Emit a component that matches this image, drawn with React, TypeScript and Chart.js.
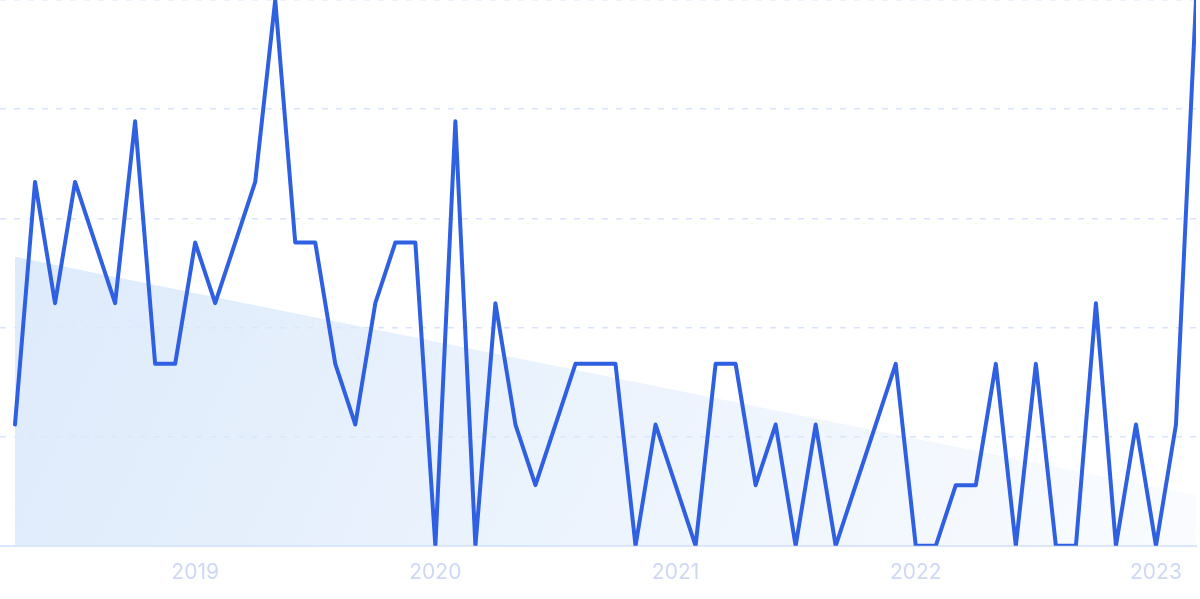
import React, { useEffect, useRef } from "react";
import { Chart, registerables } from "chart.js";

Chart.register(...registerables);

const months: string[] = [
  "2018-04","2018-05","2018-06","2018-07","2018-08","2018-09","2018-10","2018-11","2018-12",
  "2019-01","2019-02","2019-03","2019-04","2019-05","2019-06","2019-07","2019-08","2019-09","2019-10","2019-11","2019-12",
  "2020-01","2020-02","2020-03","2020-04","2020-05","2020-06","2020-07","2020-08","2020-09","2020-10","2020-11","2020-12",
  "2021-01","2021-02","2021-03","2021-04","2021-05","2021-06","2021-07","2021-08","2021-09","2021-10","2021-11","2021-12",
  "2022-01","2022-02","2022-03","2022-04","2022-05","2022-06","2022-07","2022-08","2022-09","2022-10","2022-11","2022-12",
  "2023-01","2023-02","2023-03",
];

const values: number[] = [
  2, 6, 4, 6, 5, 4, 7, 3, 3,
  5, 4, 5, 6, 9, 5, 5, 3, 2, 4, 5, 5,
  0, 7, 0, 4, 2, 1, 2, 3, 3, 3, 0, 2,
  1, 0, 3, 3, 1, 2, 0, 2, 0, 1, 2, 3,
  0, 0, 1, 1, 3, 0, 3, 0, 0, 4, 0, 2,
  0, 2, 9,
];

const yearTicks: string[] = ["2019", "2020", "2021", "2022", "2023"];

export default function App() {
  const ref = useRef<HTMLCanvasElement | null>(null);

  useEffect(() => {
    if (!ref.current) return;
    const n = values.length;
    // least-squares trend from the series
    const mx = (n - 1) / 2;
    const my = values.reduce((a, b) => a + b, 0) / n;
    let sxy = 0, sxx = 0;
    values.forEach((v, i) => { sxy += (i - mx) * (v - my); sxx += (i - mx) * (i - mx); });
    const slope = sxy / sxx;
    const trend = [
      { x: 0, y: my - slope * mx },
      { x: n - 1, y: my + slope * (n - 1 - mx) },
    ];
    const tickIdx = yearTicks.map((y) => months.indexOf(y + "-01"));

    const chart = new Chart(ref.current, {
      type: "line",
      data: {
        datasets: [
          {
            data: values.map((v, i) => ({ x: i, y: v })),
            borderColor: "#2f60e2",
            borderWidth: 4,
            pointRadius: 0,
            tension: 0,
            borderJoinStyle: "round",
            borderCapStyle: "round",
            fill: false,
            order: 1,
          },
          {
            data: trend,
            borderWidth: 0,
            pointRadius: 0,
            fill: "origin",
            order: 2,
            backgroundColor: (ctx: any) => {
              const area = ctx.chart.chartArea;
              if (!area) return "rgba(219,234,252,1)";
              const g = ctx.chart.ctx.createLinearGradient(area.left, area.top, area.right, area.bottom);
              g.addColorStop(0, "rgba(219,233,251,1)");
              g.addColorStop(1, "rgba(219,233,251,0.15)");
              return g;
            },
          },
        ],
      },
      options: {
        animation: false,
        responsive: false,
        maintainAspectRatio: false,
        layout: { padding: { left: 0, right: 4, top: 0, bottom: 0 } },
        plugins: { legend: { display: false }, tooltip: { enabled: false } },
        scales: {
          x: {
            type: "linear",
            min: -0.75,
            max: n - 1,
            grid: { display: false, drawTicks: false },
            border: { display: true, color: "#d9e6fb", width: 2 },
            afterBuildTicks: (scale: any) => {
              scale.ticks = tickIdx.map((v) => ({ value: v }));
            },
            ticks: {
              autoSkip: false,
              maxRotation: 0,
              padding: 14,
              color: "#cdd8f5",
              font: { family: "Inter", size: 21 },
              callback: (v: any) => {
                const i = tickIdx.indexOf(Number(v));
                return i >= 0 ? yearTicks[i] : "";
              },
            },
          },
          y: {
            min: 0,
            max: 9,
            ticks: { display: false, stepSize: 1.8 },
            border: { display: false, dash: [6, 8] },
            grid: { color: "#d8e4fc", lineWidth: 1.5, drawTicks: false },
            afterFit: (scale: any) => { scale.width = 0; },
          },
        },
      },
    });
    return () => chart.destroy();
  }, []);

  return (
    <div style={{ position: "fixed", left: 0, top: 0, width: 1200, height: 599, background: "#fff" }}>
      <canvas ref={ref} width={1200} height={599} style={{ display: "block" }} />
    </div>
  );
}
